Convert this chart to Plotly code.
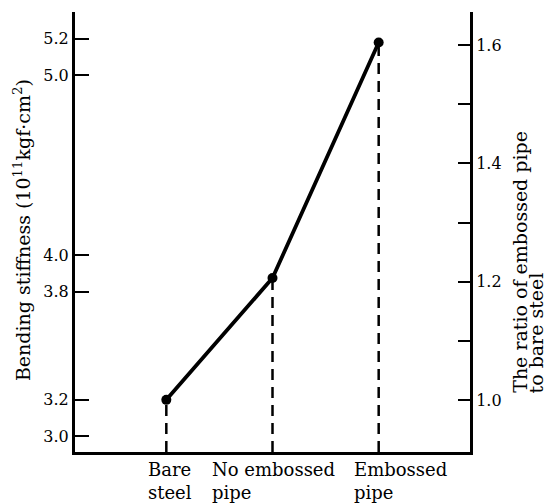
import plotly.graph_objects as go

categories = ["Bare<br>steel", "No embossed<br>pipe", "Embossed<br>pipe"]
x_pos = [0, 1, 2]
stiffness = [3.2, 3.875, 5.18]
ratio = [1.0, 1.206, 1.604]
left_ticks = [3.0, 3.2, 3.8, 4.0, 5.0, 5.2]
right_ticks = [1.0, 1.2, 1.4, 1.6]

Y_RANGE = [2.911, 5.349]
Y2_RANGE = [0.912, 1.656]
X_RANGE = [-0.86, 2.86]

FONT = "DejaVu Serif"

fig = go.Figure()

# dashed drop lines
for xi, v in zip(x_pos, stiffness):
    fig.add_trace(go.Scatter(x=[xi, xi], y=[Y_RANGE[0], v], mode="lines",
                             line=dict(color="black", width=2.5, dash="11px,7px"),
                             showlegend=False, hoverinfo="skip"))

fig.add_trace(go.Scatter(x=x_pos, y=stiffness, mode="lines+markers",
                         line=dict(color="black", width=3.8),
                         marker=dict(color="black", size=10),
                         showlegend=False))

fig.add_trace(go.Scatter(x=x_pos, y=ratio, mode="markers", yaxis="y2",
                         marker=dict(opacity=0), showlegend=False, hoverinfo="skip"))

fig.update_layout(
    width=553, height=504,
    margin=dict(l=75, r=83, t=12, b=52),
    paper_bgcolor="white", plot_bgcolor="white",
    font=dict(family=FONT, color="black", size=16),
    xaxis=dict(range=X_RANGE, showgrid=False, zeroline=False, showticklabels=False,
               ticks="", showline=True, linewidth=3, linecolor="black"),
    yaxis=dict(range=Y_RANGE, tickvals=left_ticks, ticktext=[f"{v:.1f}" for v in left_ticks],
               ticks="inside", ticklen=14, tickwidth=2, tickcolor="black",
               showgrid=False, zeroline=False, showline=True, linewidth=3, linecolor="black",
               tickfont=dict(family=FONT, size=16)),
    yaxis2=dict(range=Y2_RANGE, overlaying="y", side="right", tickvals=right_ticks,
                ticktext=[f"{v:.1f}" for v in right_ticks],
                ticks="inside", ticklen=12, tickwidth=2, tickcolor="black",
                minor=dict(ticks="inside", ticklen=12, tickwidth=2, tickcolor="black",
                           tickvals=[1.1, 1.3, 1.5]),
                showgrid=False, zeroline=False, showline=True, linewidth=3, linecolor="black",
                tickfont=dict(family=FONT, size=16)),
)

# category labels (left-aligned two-line text)
shifts = [-20, -63, -27]
for xi, lab, s in zip(x_pos, categories, shifts):
    fig.add_annotation(x=xi, y=0, xref="x", yref="paper", text=lab, showarrow=False,
                       xanchor="left", yanchor="top", align="left", xshift=s, yshift=-5,
                       font=dict(family=FONT, size=18))

fig.add_annotation(x=-0.134, y=0.5045, xref="paper", yref="paper",
                   text="Bending stiffness (10<sup>11</sup>kgf·cm<sup>2</sup>)",
                   textangle=-90, showarrow=False, xanchor="center", yanchor="middle",
                   font=dict(family=FONT, size=19))
fig.add_annotation(x=1.126, y=0.1295, xref="paper", yref="paper",
                   text="The ratio of embossed pipe", textangle=-90, showarrow=False,
                   xanchor="center", yanchor="bottom", font=dict(family=FONT, size=19))
fig.add_annotation(x=1.167, y=0.1295, xref="paper", yref="paper",
                   text="to bare steel", textangle=-90, showarrow=False,
                   xanchor="center", yanchor="bottom", font=dict(family=FONT, size=19))

fig.write_html("out.html")
